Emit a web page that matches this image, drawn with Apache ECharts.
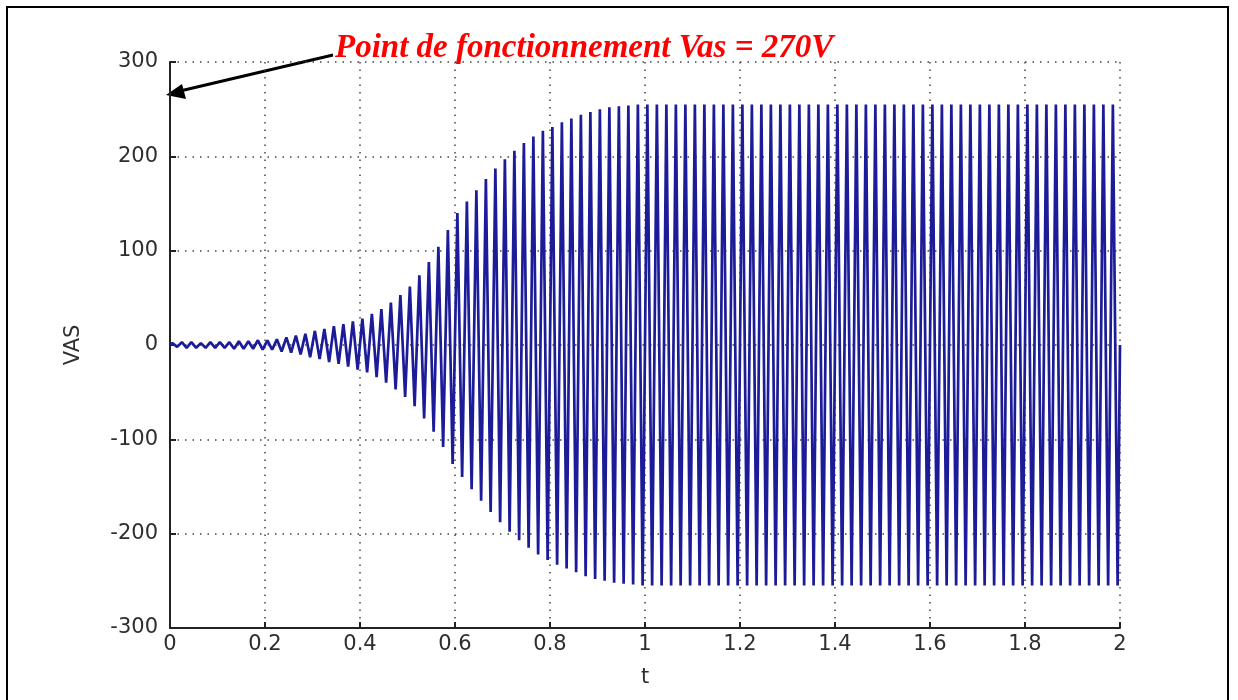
<!DOCTYPE html>
<html>
<head>
<meta charset="utf-8">
<title>VAS</title>
<script src="https://cdn.jsdelivr.net/npm/echarts@6.0.0/dist/echarts.min.js"></script>
<style>
  html, body { margin: 0; padding: 0; background: #fff; }
  #chart { width: 1238px; height: 700px; }
</style>
</head>
<body>
<div id="chart"></div>
<script>
// période du signal (50 Hz), une crête haute et une crête basse par période
var period = 0.02;
var tEnd = 2;

// crêtes positives, une par période
var vasMax = [
  2, 3, 3, 2, 3, 3, 3, 4, 4, 5,
  5, 6, 8, 10, 12, 15, 17, 20, 22, 25,
  28, 33, 38, 45, 53, 62, 74, 88, 104, 122,
  140, 152, 164, 176, 187, 197, 206, 214, 221, 227,
  231, 236, 240, 244, 247, 250, 252, 253, 254, 255,
  255, 255, 255, 255, 255, 255, 255, 255, 255, 255,
  255, 255, 255, 255, 255, 255, 255, 255, 255, 255,
  255, 255, 255, 255, 255, 255, 255, 255, 255, 255,
  255, 255, 255, 255, 255, 255, 255, 255, 255, 255,
  255, 255, 255, 255, 255, 255, 255, 255, 255, 255
];

// crêtes négatives
var vasMin = [
  -2, -3, -3, -3, -3, -3, -4, -4, -4, -5,
  -5, -7, -8, -10, -13, -15, -18, -20, -23, -26,
  -29, -34, -40, -47, -55, -65, -78, -92, -108, -126,
  -140, -153, -165, -177, -188, -198, -207, -215, -222, -228,
  -233, -237, -241, -245, -248, -250, -252, -253, -254, -255,
  -255, -255, -255, -255, -255, -255, -255, -255, -255, -255,
  -255, -255, -255, -255, -255, -255, -255, -255, -255, -255,
  -255, -255, -255, -255, -255, -255, -255, -255, -255, -255,
  -255, -255, -255, -255, -255, -255, -255, -255, -255, -255,
  -255, -255, -255, -255, -255, -255, -255, -255, -255, -255
];

var xTicks = ['0', '0.2', '0.4', '0.6', '0.8', '1', '1.2', '1.4', '1.6', '1.8', '2'];
var yTicks = ['-300', '-200', '-100', '0', '100', '200', '300'];

// points (t, VAS) : crête haute à 1/4 de période, crête basse à 3/4
var points = [[0, 0]];
for (var k = 0; k < vasMax.length; k++) {
    points.push([k * period + period / 4, vasMax[k]]);
    points.push([k * period + 3 * period / 4, vasMin[k]]);
}
points.push([tEnd, 0]);

var dom = document.getElementById('chart');
var myChart = echarts.init(dom, null, { renderer: 'canvas' });

var axisFont = {
    fontFamily: 'DejaVu Sans, Verdana, sans-serif',
    fontSize: 21,
    color: '#2e2e2e'
};

var gridDots = { color: '#444', width: 1.5, type: [1.5, 6] };

var option = {
    animation: false,
    backgroundColor: '#fff',
    grid: { left: 170, right: 118, top: 62, bottom: 72 },
    xAxis: {
        type: 'value',
        min: 0,
        max: 2,
        interval: 0.2,
        name: 't',
        nameLocation: 'middle',
        nameGap: 39,
        nameTextStyle: axisFont,
        axisLine: { onZero: false, lineStyle: { color: '#222', width: 2 } },
        axisTick: { inside: true, length: 6, lineStyle: { color: '#222', width: 2 } },
        axisLabel: Object.assign({
            margin: 6,
            formatter: function (v) {
                return xTicks[Math.round(v / 0.2)];
            }
        }, axisFont),
        splitLine: { show: true, showMinLine: false, showMaxLine: true, lineStyle: gridDots }
    },
    yAxis: {
        type: 'value',
        min: -300,
        max: 300,
        interval: 100,
        name: 'VAS',
        nameLocation: 'middle',
        nameGap: 86,
        nameRotate: 90,
        nameTextStyle: axisFont,
        axisLine: { show: true, onZero: false, lineStyle: { color: '#222', width: 2 } },
        axisTick: { show: true, inside: true, length: 6, lineStyle: { color: '#222', width: 2 } },
        axisLabel: Object.assign({
            margin: 12,
            formatter: function (v) {
                return yTicks[Math.round((v + 300) / 100)];
            }
        }, axisFont),
        splitLine: { show: true, showMinLine: false, showMaxLine: true, lineStyle: gridDots }
    },
    series: [
        {
            type: 'line',
            data: points,
            showSymbol: false,
            symbol: 'none',
            sampling: false,
            lineStyle: { color: '#1c1c98', width: 2.7, join: 'bevel' },
            z: 3
        }
    ],
    graphic: [
        {
            type: 'rect',
            silent: true,
            shape: { x: 7, y: 7, width: 1221, height: 720 },
            style: { fill: 'none', stroke: '#000', lineWidth: 2 }
        },
        {
            type: 'text',
            x: 335,
            y: 48,
            style: {
                text: 'Point de fonctionnement Vas = 270V',
                fill: '#ff0000',
                font: 'italic bold 33px "Liberation Serif", "Times New Roman", serif',
                verticalAlign: 'middle',
                align: 'left'
            }
        },
        {
            type: 'line',
            shape: { x1: 333, y1: 55, x2: 180, y2: 91 },
            style: { stroke: '#000', lineWidth: 3 }
        },
        {
            type: 'polygon',
            shape: { points: [[166, 95], [182, 84], [186, 99]] },
            style: { fill: '#000' }
        }
    ]
};

if (option && typeof option === 'object') {
    myChart.setOption(option);
}

window.addEventListener('resize', myChart.resize);
</script>
</body>
</html>
